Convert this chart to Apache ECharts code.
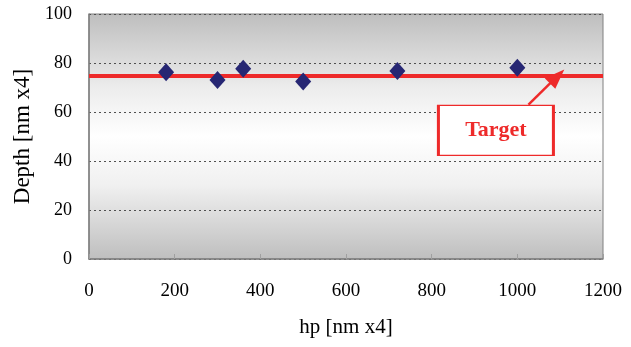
<!DOCTYPE html>
<html>
<head>
<meta charset="utf-8">
<script src="https://cdn.jsdelivr.net/npm/echarts@6/dist/echarts.min.js"></script>
<style>
  html, body { margin: 0; padding: 0; background: #fff; }
  #chart { width: 631px; height: 347px; }
</style>
</head>
<body>
<div id="chart"></div>
<script>
// measured points (hp, depth)
var hpValues = [180, 300, 360, 500, 720, 1000];
var depthValues = [76.2, 73.1, 77.7, 72.5, 76.7, 78.1];
var targetDepth = 75;
var targetLabel = 'Target';
// annotation anchor points in data units
var labelBoxAt = [950, 52.5];
var arrowFrom = [1026, 63];
var arrowTo = [1093, 74.5];

var font = 'Liberation Serif, Times New Roman, serif';
var chart = echarts.init(document.getElementById('chart'));

var points = hpValues.map(function (x, i) { return [x, depthValues[i]]; });

chart.setOption({
  animation: false,
  grid: {
    left: 89, right: 28, top: 14, bottom: 88,
    show: true,
    borderColor: '#808080',
    borderWidth: 1,
    backgroundColor: {
      type: 'linear', x: 0, y: 0, x2: 0, y2: 1,
      colorStops: [
        { offset: 0, color: '#bebebe' },
        { offset: 0.3, color: '#ececec' },
        { offset: 0.5, color: '#ffffff' },
        { offset: 0.7, color: '#f0f0f0' },
        { offset: 1, color: '#bebebe' }
      ]
    }
  },
  xAxis: {
    type: 'value', min: 0, max: 1200, interval: 200,
    name: 'hp [nm x4]', nameLocation: 'middle', nameGap: 58,
    nameTextStyle: { fontFamily: font, fontSize: 21, color: '#000' },
    axisLine: { lineStyle: { color: '#808080', width: 1.5 } },
    axisTick: { inside: true, length: 5, lineStyle: { color: '#a0a0a0' } },
    axisLabel: {
      fontFamily: font, fontSize: 19, color: '#000', margin: 23,
      formatter: function (v) { return String(v); }
    },
    splitLine: { show: false }
  },
  yAxis: {
    type: 'value', min: 0, max: 100, interval: 20,
    name: 'Depth [nm x4]', nameLocation: 'middle', nameGap: 54,
    nameTextStyle: { fontFamily: font, fontSize: 23, color: '#000' },
    axisLine: { show: true, lineStyle: { color: '#808080', width: 1.5 } },
    axisTick: { show: false },
    axisLabel: { fontFamily: font, fontSize: 18, color: '#000', margin: 17 },
    splitLine: { lineStyle: { color: '#505050', type: [2, 3], width: 1.2 } }
  },
  series: [
    {
      type: 'scatter',
      data: points,
      symbol: 'diamond',
      symbolSize: [16, 18],
      itemStyle: { color: '#262673', opacity: 1 },
      z: 5,
      markLine: {
        silent: true,
        symbol: 'none',
        label: { show: false },
        lineStyle: { color: '#ee2a2a', width: 4, type: 'solid' },
        data: [{ yAxis: targetDepth }]
      }
    },
    {
      type: 'scatter',
      data: [],
      markLine: {
        silent: true,
        symbol: ['none', 'triangle'],
        symbolSize: [15, 20],
        label: { show: false },
        lineStyle: { color: '#ee2a2a', width: 2.5, type: 'solid' },
        data: [[{ coord: arrowFrom }, { coord: arrowTo }]]
      },
      markPoint: {
        silent: true,
        symbol: 'rect',
        symbolSize: [115, 50],
        itemStyle: { color: '#ffffff', borderColor: '#ee2a2a', borderWidth: 2 },
        label: {
          show: true, position: 'inside', formatter: targetLabel,
          fontFamily: font, fontSize: 22, fontWeight: 'bold', color: '#ee2a2a'
        },
        data: [{ coord: labelBoxAt }]
      }
    }
  ]
});
</script>
</body>
</html>
